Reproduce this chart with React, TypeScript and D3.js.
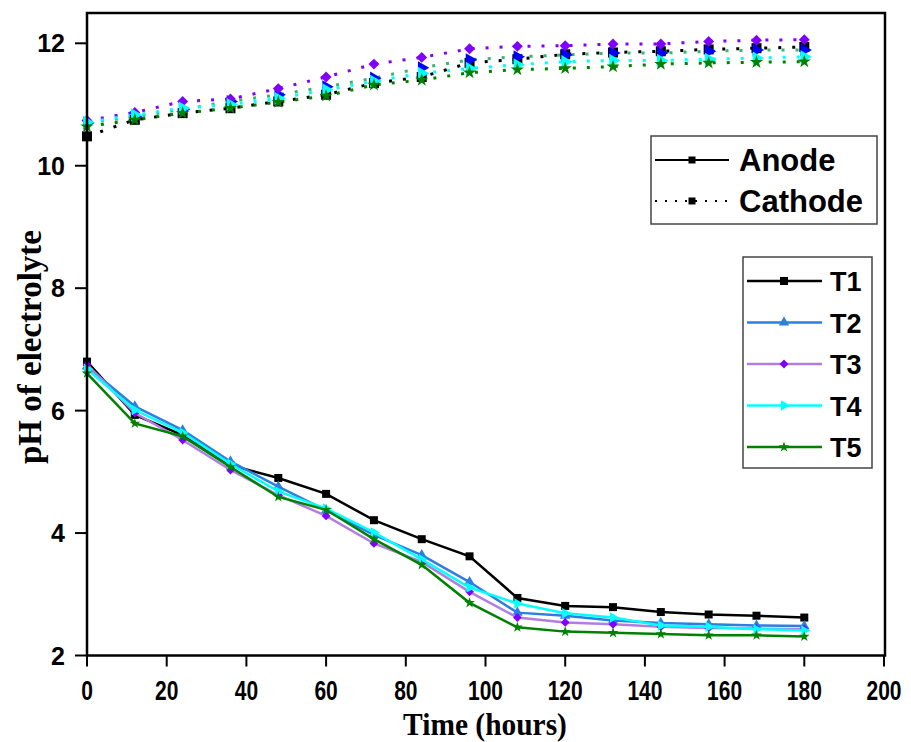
import React from "react";
import * as d3 from "d3";

const times = [0, 12, 24, 36, 48, 60, 72, 84, 96, 108, 120, 132, 144, 156, 168, 180];

const anodeT1 = [6.80, 5.93, 5.60, 5.11, 4.90, 4.64, 4.21, 3.90, 3.62, 2.94, 2.81, 2.79, 2.71, 2.67, 2.65, 2.62];
const anodeT2 = [6.72, 6.07, 5.68, 5.17, 4.76, 4.37, 3.97, 3.64, 3.20, 2.70, 2.65, 2.57, 2.53, 2.51, 2.49, 2.48];
const anodeT3 = [6.75, 5.96, 5.52, 5.03, 4.62, 4.28, 3.83, 3.53, 3.04, 2.62, 2.54, 2.51, 2.47, 2.45, 2.44, 2.43];
const anodeT4 = [6.68, 6.01, 5.64, 5.13, 4.68, 4.40, 4.01, 3.57, 3.11, 2.85, 2.69, 2.62, 2.49, 2.47, 2.43, 2.41];
const anodeT5 = [6.61, 5.79, 5.58, 5.08, 4.59, 4.38, 3.90, 3.48, 2.86, 2.46, 2.39, 2.37, 2.35, 2.33, 2.33, 2.31];

const cathodeT1 = [10.48, 10.75, 10.86, 10.94, 11.05, 11.16, 11.35, 11.45, 11.68, 11.74, 11.82, 11.85, 11.87, 11.90, 11.92, 11.94];
const cathodeT2 = [10.70, 10.80, 10.92, 11.05, 11.16, 11.29, 11.43, 11.60, 11.73, 11.78, 11.81, 11.84, 11.84, 11.87, 11.89, 11.89];
const cathodeT3 = [10.74, 10.87, 11.05, 11.09, 11.26, 11.45, 11.66, 11.77, 11.91, 11.95, 11.96, 11.99, 11.99, 12.03, 12.05, 12.06];
const cathodeT4 = [10.71, 10.83, 10.94, 11.00, 11.10, 11.24, 11.38, 11.51, 11.59, 11.65, 11.70, 11.72, 11.72, 11.74, 11.76, 11.78];
const cathodeT5 = [10.64, 10.75, 10.86, 10.94, 11.04, 11.14, 11.32, 11.40, 11.52, 11.57, 11.59, 11.62, 11.66, 11.68, 11.69, 11.70];

const seriesNames = ["T1", "T2", "T3", "T4", "T5"];
const xTicks = [0, 20, 40, 60, 80, 100, 120, 140, 160, 180, 200];
const yTicks = [2, 4, 6, 8, 10, 12];

type Shape = "square" | "triUp" | "diamond" | "triRight" | "star";

const anodeStyles = [
  { line: "#000000", fill: "#000000", shape: "square" as Shape },
  { line: "#2e7de0", fill: "#2e7de0", shape: "triUp" as Shape },
  { line: "#b07ee0", fill: "#8000ff", shape: "diamond" as Shape },
  { line: "#00ffff", fill: "#00ffff", shape: "triRight" as Shape },
  { line: "#008000", fill: "#008000", shape: "star" as Shape },
];
const cathodeStyles = [
  { line: "#000000", fill: "#000000", shape: "square" as Shape },
  { line: "#3cb371", fill: "#0000ff", shape: "triRight" as Shape },
  { line: "#8000ff", fill: "#8000ff", shape: "diamond" as Shape },
  { line: "#00ffff", fill: "#00ffff", shape: "triRight" as Shape },
  { line: "#008000", fill: "#008000", shape: "star" as Shape },
];

const anodeData = [anodeT1, anodeT2, anodeT3, anodeT4, anodeT5];
const cathodeData = [cathodeT1, cathodeT2, cathodeT3, cathodeT4, cathodeT5];

function markerPath(shape: Shape, size: number): { d: string; rot: number } {
  switch (shape) {
    case "square":
      return { d: d3.symbol(d3.symbolSquare, size * size)() as string, rot: 0 };
    case "triUp":
      return { d: d3.symbol(d3.symbolTriangle, size * size * 0.75)() as string, rot: 0 };
    case "triRight":
      return { d: d3.symbol(d3.symbolTriangle, size * size * 0.75)() as string, rot: 90 };
    case "diamond":
      return { d: d3.symbol(d3.symbolSquare, size * size * 0.6)() as string, rot: 45 };
    case "star":
      return { d: d3.symbol(d3.symbolStar, size * size * 0.55)() as string, rot: 0 };
  }
}

function Marker({ x, y, shape, fill, size }: { x: number; y: number; shape: Shape; fill: string; size: number }) {
  const m = markerPath(shape, size);
  return <path d={m.d} transform={`translate(${x},${y}) rotate(${m.rot})`} fill={fill} />;
}

export default function App() {
  const W = 911, H = 742;
  const left = 87, right = 885, top = 13, bottom = 655.5;
  const x = d3.scaleLinear().domain([0, 200]).range([left, 884]);
  const y = d3.scaleLinear().domain([2, 12]).range([bottom, 43.3]);
  const line = d3.line<[number, number]>().x((d) => x(d[0])).y((d) => y(d[1]));

  const toPts = (vals: number[]) => times.map((t, i) => [t, vals[i]] as [number, number]);

  return (
    <svg width={W} height={H} style={{ position: "absolute", left: 0, top: 0, background: "#fff" }}>
      <rect x={0} y={0} width={W} height={H} fill="#fff" />
      {/* cathode series */}
      {cathodeData.map((vals, si) => (
        <g key={"c" + si}>
          <path d={line(toPts(vals)) as string} fill="none" stroke={cathodeStyles[si].line} strokeWidth={3} strokeDasharray="3 11" />
        </g>
      ))}
      {cathodeData.map((vals, si) => (
        <g key={"cm" + si}>
          {vals.map((v, i) => (
            <Marker key={i} x={x(times[i])} y={y(v)} shape={cathodeStyles[si].shape} fill={cathodeStyles[si].fill} size={10} />
          ))}
        </g>
      ))}
      {/* anode series */}
      {anodeData.map((vals, si) => (
        <g key={"a" + si}>
          <path d={line(toPts(vals)) as string} fill="none" stroke={anodeStyles[si].line} strokeWidth={2.5} />
          {vals.map((v, i) => (
            <Marker key={i} x={x(times[i])} y={y(v)} shape={anodeStyles[si].shape} fill={anodeStyles[si].fill} size={8} />
          ))}
        </g>
      ))}

      {/* frame */}
      <rect x={left} y={top} width={right - left} height={bottom - top} fill="none" stroke="#000" strokeWidth={2.5} />

      {/* x ticks */}
      {xTicks.map((t) => (
        <g key={"xt" + t}>
          <line x1={x(t)} x2={x(t)} y1={bottom} y2={bottom + 11} stroke="#000" strokeWidth={2} />
          <text textAnchor="middle" fontFamily="Arial, 'Liberation Sans', sans-serif" fontWeight="bold" fontSize={28}
            transform={`translate(${x(t)},${bottom + 44}) scale(0.75,1)`}>
            {t}
          </text>
        </g>
      ))}
      {/* y ticks */}
      {yTicks.map((t) => (
        <g key={"yt" + t}>
          <line x1={left - 12} x2={left} y1={y(t)} y2={y(t)} stroke="#000" strokeWidth={2} />
          <text x={left - 22} y={y(t) + 9} textAnchor="end" fontFamily="Arial, 'Liberation Sans', sans-serif" fontWeight="bold" fontSize={25}>
            {t}
          </text>
        </g>
      ))}

      {/* axis titles */}
      <text textAnchor="middle" fontFamily="'Times New Roman', 'Liberation Serif', serif" fontWeight="bold" fontSize={31}
        transform="translate(485,735) scale(0.95,1)">
        Time (hours)
      </text>
      <text transform="translate(41,347) rotate(-90)" textAnchor="middle" fontFamily="'Times New Roman', 'Liberation Serif', serif" fontWeight="bold" fontSize={33}>
        pH of electrolyte
      </text>

      {/* legend 1 */}
      <rect x={651} y={136} width={226} height={88} fill="#fff" stroke="#444" strokeWidth={1.5} />
      <line x1={655} x2={729} y1={160} y2={160} stroke="#000" strokeWidth={2} />
      <Marker x={692} y={160} shape="square" fill="#000" size={7} />
      <text x={739} y={171} fontFamily="Arial, 'Liberation Sans', sans-serif" fontWeight="bold" fontSize={31}>Anode</text>
      <line x1={655} x2={729} y1={201} y2={201} stroke="#000" strokeWidth={2} strokeDasharray="2 8" />
      <Marker x={692} y={201} shape="square" fill="#000" size={7} />
      <text x={739} y={212} fontFamily="Arial, 'Liberation Sans', sans-serif" fontWeight="bold" fontSize={31}>Cathode</text>

      {/* legend 2 */}
      <rect x={743} y={257} width={129} height={211} fill="#fff" stroke="#444" strokeWidth={1.5} />
      {seriesNames.map((n, i) => {
        const cy = 281 + i * 41.5;
        return (
          <g key={n}>
            <line x1={747} x2={822} y1={cy} y2={cy} stroke={anodeStyles[i].line} strokeWidth={2.5} />
            <Marker x={784} y={cy} shape={anodeStyles[i].shape} fill={anodeStyles[i].fill} size={8} />
            <text x={830} y={cy + 10} fontFamily="Arial, 'Liberation Sans', sans-serif" fontWeight="bold" fontSize={27}>{n}</text>
          </g>
        );
      })}
    </svg>
  );
}
